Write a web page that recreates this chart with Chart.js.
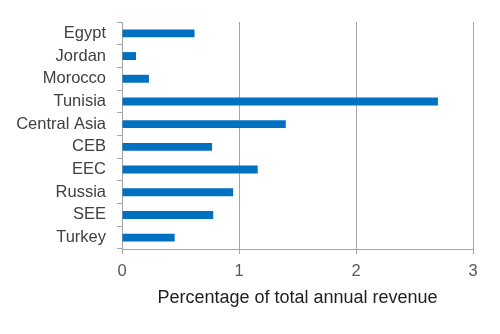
<!DOCTYPE html>
<html>
<head>
<meta charset="utf-8">
<script src="https://cdn.jsdelivr.net/npm/chart.js@4"></script>
<style>
  html, body { margin: 0; padding: 0; background: #fff; }
  #wrap { width: 500px; height: 334px; }
</style>
</head>
<body>
<div id="wrap"><canvas id="chart"></canvas></div>
<script>
// Regions, top to bottom
const regions = ['Egypt', 'Jordan', 'Morocco', 'Tunisia', 'Central Asia', 'CEB', 'EEC', 'Russia', 'SEE', 'Turkey'];
// Share of total annual revenue, in percent
const revenueShare = [0.62, 0.12, 0.23, 2.70, 1.40, 0.77, 1.16, 0.95, 0.78, 0.45];
const xTicks = [0, 1, 2, 3];

const fontFamily = '"Liberation Sans", Arial, sans-serif';
const gridGrey = '#a6a6a6';

new Chart(document.getElementById('chart'), {
  type: 'bar',
  data: {
    labels: regions,
    datasets: [{
      data: revenueShare,
      backgroundColor: '#0070c0',
      barPercentage: 0.7,
      categoryPercentage: 0.5,
    }]
  },
  options: {
    indexAxis: 'y',
    responsive: true,
    maintainAspectRatio: false,
    animation: false,
    layout: { padding: { top: 22, right: 27, bottom: 25, left: 0 } },
    plugins: {
      legend: { display: false },
      tooltip: { enabled: false },
    },
    scales: {
      x: {
        min: 0,
        max: 3,
        afterBuildTicks: (scale) => { scale.ticks = xTicks.map(v => ({ value: v })); },
        afterFit: (scale) => { scale.height = 60; },
        grid: { color: gridGrey, lineWidth: 1, tickLength: 5, drawTicks: true },
        border: { display: true, color: gridGrey, width: 1 },
        ticks: { color: '#595959', font: { family: fontFamily, size: 16.5 }, padding: 8 },
        title: {
          display: true,
          text: 'Percentage of total annual revenue',
          color: '#1f1f1f',
          font: { family: fontFamily, size: 18 },
          padding: { top: 0, bottom: 0 },
        },
      },
      y: {
        afterFit: (scale) => { scale.width = 122; },
        grid: { color: gridGrey, drawOnChartArea: false, tickLength: 5, offset: true },
        border: { display: true, color: gridGrey, width: 1 },
        ticks: { color: '#404040', font: { family: fontFamily, size: 16.5 }, padding: 11, autoSkip: false },
      }
    }
  }
});
</script>
</body>
</html>
